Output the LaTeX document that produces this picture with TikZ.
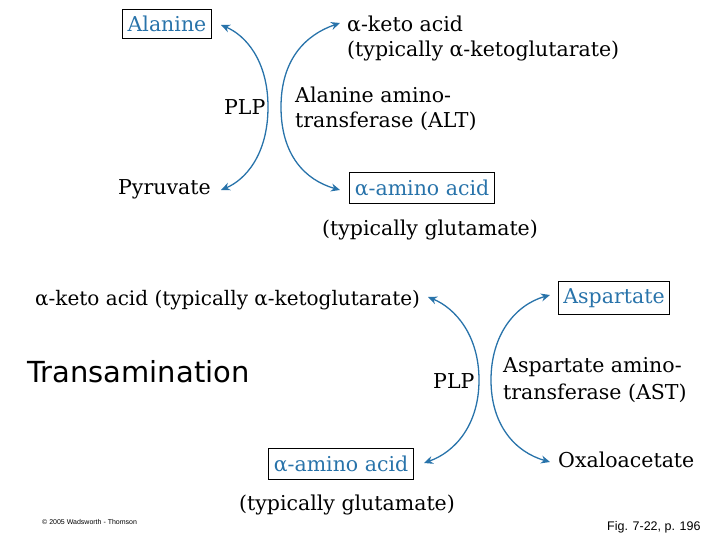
\documentclass[tikz,border=0pt]{standalone}
\usepackage{fontspec}
\setmainfont{DejaVu Serif}
\newfontfamily\sansf{DejaVu Sans}
\newfontfamily\arialf{Liberation Sans}
\usetikzlibrary{arrows.meta}
\definecolor{bl}{RGB}{40,115,170}
\begin{document}
\begin{tikzpicture}[x=1pt,y=-1pt,
  lbl/.style={font=\fontsize{20.5}{24}\selectfont,inner sep=0pt,anchor=west},
  bx/.style={draw,line width=1pt,text=bl,font=\fontsize{20.5}{24}\selectfont,inner xsep=5pt,inner ysep=7pt},
  arc/.style={draw=bl,line width=1.3pt,-{Stealth[length=9pt,width=8pt]}}]
\useasboundingbox (0,0) rectangle (720,540);
% top
\node[bx] (ala) at (167,24) {Alanine};
\node[lbl] (ka) at (347,24) {α-keto acid};
\node[lbl] (ka2) at (347,51) {(typically α-ketoglutarate)};
\node[lbl] (plp1) at (224,107) {PLP};
\node[lbl] (alt1) at (295,95) {Alanine amino-};
\node[lbl] (alt2) at (295,121) {transferase (ALT)};
\node[lbl] (pyr) at (118,189) {Pyruvate};
\node[bx] (aa1) at (422,188) {α-amino acid};
\node[lbl,anchor=center] (glu1) at (430,230) {(typically glutamate)};
\coordinate (m1) at (268,107);
\coordinate (m2) at (281,107);
\draw[arc] (m1) .. controls (268,60) and (245,35) .. (221,25);
\draw[arc] (m1) .. controls (268,155) and (245,180) .. (221,190);
\draw[arc] (m2) .. controls (281,60) and (305,35) .. (340,23);
\draw[arc] (m2) .. controls (281,155) and (305,180) .. (340,190);
% bottom
\node[lbl,font=\fontsize{20}{24}\selectfont] (kb) at (35,300) {α-keto acid (typically α-ketoglutarate)};
\node[bx] (asp) at (614,298) {Aspartate};
\node[lbl,font=\sansf\fontsize{29}{32}\selectfont] (tr) at (27,372) {Transamination};
\node[lbl] (plp2) at (433,381) {PLP};
\node[lbl] (ast1) at (503,367) {Aspartate amino-};
\node[lbl] (ast2) at (503,393) {transferase (AST)};
\node[bx] (aa2) at (341,464) {α-amino acid};
\node[lbl] (oxa) at (558,460) {Oxaloacetate};
\node[lbl,anchor=center] (glu2) at (347,505) {(typically glutamate)};
\coordinate (m3) at (479,380);
\coordinate (m4) at (491,380);
\draw[arc] (m3) .. controls (479,335) and (455,308) .. (428,297);
\draw[arc] (m3) .. controls (479,425) and (455,452) .. (424,463);
\draw[arc] (m4) .. controls (491,335) and (515,305) .. (550,295);
\draw[arc] (m4) .. controls (491,425) and (515,452) .. (550,462);
\node[lbl,font=\arialf\fontsize{7}{8}\selectfont] (cp) at (42,522) {\textcopyright\ 2005 Wadsworth - Thomson};
\node[lbl,font=\arialf\fontsize{12.5}{14}\selectfont] (fig) at (607,527) {Fig. 7-22, p. 196};
\end{tikzpicture}
\end{document}
